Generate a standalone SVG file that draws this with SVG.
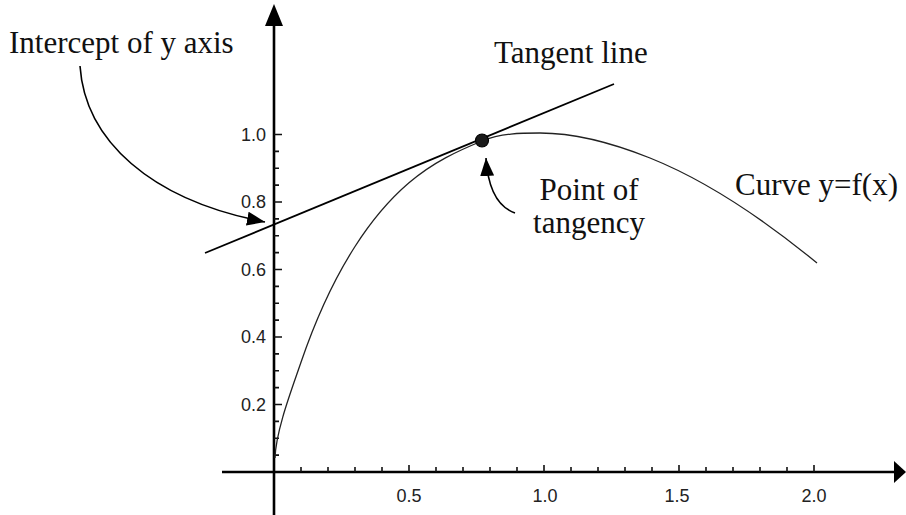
<svg xmlns="http://www.w3.org/2000/svg" width="906" height="515" viewBox="0 0 906 515">
  <style>
    .lbl { font-family: "Liberation Serif", "Times New Roman", serif; font-size: 31px; fill: #111; }
    .tick { font-family: "Liberation Sans", Arial, sans-serif; font-size: 18px; fill: #222; }
    .axis { stroke: #000; stroke-width: 2.6; fill: none; }
    .ticks { stroke: #111; stroke-width: 1.6; fill: none; }
    .conn { stroke: #000; stroke-width: 1.6; fill: none; }
  </style>
  <defs>
    <marker id="arrow" markerUnits="userSpaceOnUse" markerWidth="18" markerHeight="14" viewBox="0 0 18 14" refX="18" refY="7" orient="auto">
      <path d="M0,0 L18,7 L0,14 z" fill="#000"/>
    </marker>
  </defs>
  <rect width="906" height="515" fill="#fff"/>

  <g id="axes">
    <line class="axis" x1="274" y1="515" x2="274" y2="22"/>
    <polygon points="274,4 265,26 283,26" fill="#000"/>
    <line class="axis" x1="222" y1="472" x2="898" y2="472"/>
    <polygon points="894,461 906,472 894,483" fill="#000"/>
  </g>

  <g id="ticks">
    <path class="ticks" d="M274,455.1h5M274,438.25h5M274,421.4h5M274,404.5h8M274,387.6h5M274,370.75h5M274,353.9h5M274,337h8M274,320.1h5M274,303.25h5M274,286.4h5M274,269.5h8M274,252.6h5M274,235.75h5M274,218.9h5M274,202h8M274,185.1h5M274,168.25h5M274,151.4h5M274,134.5h8"/>
    <path class="ticks" d="M301,472v-5M328,472v-5M355,472v-5M382,472v-5M409,472v-7M436,472v-5M463,472v-5M490,472v-5M517,472v-5M544,472v-7M571,472v-5M598,472v-5M625,472v-5M652,472v-5M679,472v-7M706,472v-5M733,472v-5M760,472v-5M787,472v-5M814,472v-7"/>
    <g class="tick" text-anchor="end">
      <text x="266" y="141">1.0</text>
      <text x="266" y="208">0.8</text>
      <text x="266" y="276">0.6</text>
      <text x="266" y="343">0.4</text>
      <text x="266" y="411">0.2</text>
    </g>
    <g class="tick" text-anchor="middle">
      <text x="409" y="502">0.5</text>
      <text x="545" y="502">1.0</text>
      <text x="677" y="502">1.5</text>
      <text x="814" y="502">2.0</text>
    </g>
  </g>

  <g id="curve">
    <path d="M275,458 C276,430 292,388.7 301,362.3 C319,309.6 337,274.6 355,246.5 C373,218.4 391,198.2 409,182.8 C433.3,162 457.7,151 482,141 C501.3,133.1 520.7,133 540,133 C576.7,133 613.3,143.3 650,158 C705.7,180.3 761.3,217.3 817,263" fill="none" stroke="#222" stroke-width="1.3"/>
  </g>

  <g id="tangent-line">
    <line x1="205" y1="253" x2="614" y2="84" stroke="#000" stroke-width="1.8"/>
  </g>

  <g id="point-of-tangency-dot">
    <circle cx="482" cy="140.5" r="6.5" fill="#1a1a1a" stroke="#000" stroke-width="1.2"/>
  </g>

  <g id="connectors">
    <path class="conn" d="M80,66 C85,140 150,200 265,222" marker-end="url(#arrow)"/>
    <path class="conn" d="M515,213 C498,207 488,190 486,158" marker-end="url(#arrow)"/>
  </g>

  <g id="labels">
    <text class="lbl" x="9" y="53">Intercept of y axis</text>
    <text class="lbl" x="494" y="63">Tangent line</text>
    <text class="lbl" x="589" y="200" text-anchor="middle">Point of</text>
    <text class="lbl" x="589" y="233" text-anchor="middle">tangency</text>
    <text class="lbl" x="735" y="195">Curve y=f(x)</text>
  </g>
</svg>
